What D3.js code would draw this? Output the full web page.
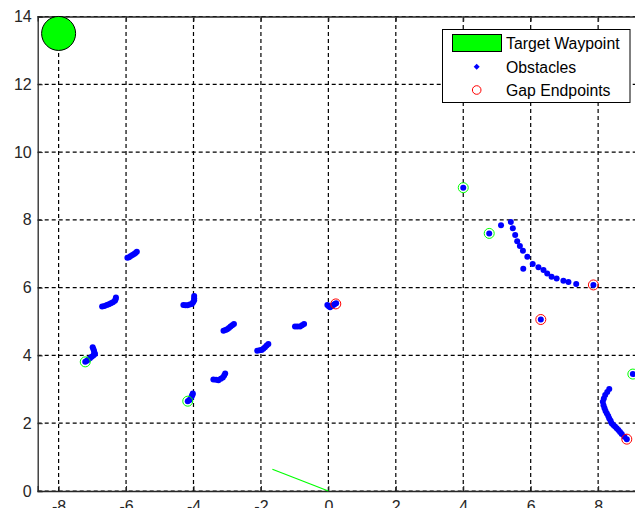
<!DOCTYPE html>
<html><head><meta charset="utf-8">
<script src="https://cdn.jsdelivr.net/npm/d3@7"></script>
<style>html,body{margin:0;padding:0;background:#fff;overflow:hidden}</style>
</head><body>
<svg id="c" width="635" height="508"></svg>
<script>
const xTicks = [-8,-6,-4,-2,0,2,4,6,8];
const yTicks = [0,2,4,6,8,10,12,14];
const obstacleX = [-7.21,-7.16,-7.12,-7.07,-7.02,-6.97,-6.92,-6.94,-6.95,-6.97,-6.99,
 -6.71,-6.64,-6.57,-6.51,-6.45,-6.39,-6.33,-6.31,-6.30,
 -5.96,-5.91,-5.86,-5.81,-5.76,-5.72,-5.68,
 -4.30,-4.24,-4.18,-4.11,-4.05,-4.01,-3.98,-3.98,-3.98,
 -3.11,-3.05,-3.00,-2.95,-2.90,-2.85,-2.80,
 -3.41,-3.33,-3.26,-3.19,-3.13,-3.09,-3.06,
 -4.17,-4.13,-4.10,-4.07,-4.05,-4.03,-4.02,
 -2.11,-2.04,-1.98,-1.93,-1.88,-1.83,-1.78,
 -0.99,-0.92,-0.84,-0.78,-0.72,
 -0.03,0.01,0.05,0.10,0.15,0.19,0.23,
 4.00,4.77,5.12,5.41,5.47,5.54,5.60,5.68,5.77,5.90,5.78,6.06,6.23,6.38,6.49,6.62,6.77,6.97,7.12,7.35,7.86,6.30,
 9.03,8.33,8.27,8.21,8.17,8.14,8.16,8.19,8.22,8.26,8.30,8.33,8.37,8.40,8.45,8.50,8.55,8.60,8.65,8.70,8.78,8.85];
const obstacleY = [3.81,3.84,3.88,3.92,3.96,4.00,4.04,4.09,4.14,4.19,4.24,
 5.44,5.46,5.49,5.51,5.54,5.57,5.61,5.66,5.71,
 6.88,6.90,6.93,6.96,6.99,7.02,7.06,
 5.49,5.48,5.48,5.50,5.52,5.57,5.63,5.69,5.75,
 4.73,4.75,4.77,4.81,4.85,4.89,4.93,
 3.29,3.28,3.27,3.31,3.35,3.41,3.47,
 2.65,2.68,2.70,2.75,2.80,2.84,2.88,
 4.14,4.15,4.16,4.20,4.24,4.29,4.34,
 4.85,4.85,4.85,4.89,4.93,
 5.49,5.45,5.42,5.46,5.49,5.52,5.54,
 8.95,7.60,7.84,7.94,7.75,7.55,7.37,7.23,7.09,6.91,6.56,6.70,6.60,6.52,6.42,6.32,6.27,6.20,6.17,6.11,6.08,5.06,
 3.45,3.01,2.92,2.83,2.73,2.63,2.53,2.44,2.36,2.29,2.21,2.14,2.07,2.00,1.95,1.90,1.85,1.80,1.74,1.68,1.60,1.53];
const greenEndX = [-7.21,-4.17,4.00,4.77,9.03];
const greenEndY = [3.81,2.65,8.95,7.60,3.45];
const gapEndX = [0.22,7.86,6.30,8.85];
const gapEndY = [5.52,6.08,5.06,1.53];
const waypointX = [-8], waypointY = [13.5];
const headingX = [0,-1.66], headingY = [0,0.64];
const legendLabels = ["Target Waypoint","Obstacles","Gap Endpoints"];

const svg = d3.select("#c");
const x = d3.scaleLinear().domain([-8.62, 9.6]).range([37.7, 37.7 + 18.22*33.72]);
const y = d3.scaleLinear().domain([0, 14]).range([491, 16.5]);
const X0 = x.range()[0], X1 = x.range()[1], Y0 = y.range()[0], Y1 = y.range()[1];

// grid
const g = svg.append("g");
g.selectAll(".gx").data(xTicks).join("line")
 .attr("x1", d=>x(d)).attr("x2", d=>x(d)).attr("y1", Y0).attr("y2", Y1)
 .attr("stroke","#000").attr("stroke-width",1.2).attr("stroke-dasharray","4,3");
g.selectAll(".gy").data(yTicks).join("line")
 .attr("y1", d=>y(d)).attr("y2", d=>y(d)).attr("x1", X0).attr("x2", X1)
 .attr("stroke","#000").attr("stroke-width",1.2).attr("stroke-dasharray","4,3");

// axes
const ax = svg.append("g").attr("transform",`translate(0,${Y0})`)
 .call(d3.axisBottom(x).tickValues(xTicks).tickSize(-5).tickPadding(10).tickFormat(d3.format("d")));
const ay = svg.append("g").attr("transform",`translate(${X0},0)`)
 .call(d3.axisLeft(y).tickValues(yTicks).tickSize(-5).tickPadding(6).tickFormat(d3.format("d")));
const at = svg.append("g").attr("transform",`translate(0,${Y1})`)
 .call(d3.axisTop(x).tickValues(xTicks).tickSize(-5).tickFormat(""));
[ax,ay,at].forEach(a=>{
  a.select(".domain").attr("stroke","#262626").attr("stroke-width",1.3);
  a.selectAll(".tick line").attr("stroke","#262626");
  a.selectAll("text").attr("fill","#262626").style("font-family","'Liberation Sans',Arial,sans-serif").style("font-size","16px");
});
ax.selectAll("text").text(d=>String(d).replace("−","-"));

// heading line
svg.append("path").datum(headingX.map((d,i)=>[d,headingY[i]]))
 .attr("d", d3.line().x(d=>x(d[0])).y(d=>y(d[1])))
 .attr("stroke","#00ff00").attr("stroke-width",1.2).attr("fill","none");

// obstacles
svg.append("g").selectAll("circle").data(obstacleX.map((d,i)=>[d,obstacleY[i]])).join("circle")
 .attr("cx",d=>x(d[0])).attr("cy",d=>y(d[1])).attr("r",3).attr("fill","#0000ff");

// endpoint circles
svg.append("g").selectAll("circle").data(greenEndX.map((d,i)=>[d,greenEndY[i]])).join("circle")
 .attr("cx",d=>x(d[0])).attr("cy",d=>y(d[1])).attr("r",5).attr("fill","none").attr("stroke","#00ff00").attr("stroke-width",1);
svg.append("g").selectAll("circle").data(gapEndX.map((d,i)=>[d,gapEndY[i]])).join("circle")
 .attr("cx",d=>x(d[0])).attr("cy",d=>y(d[1])).attr("r",5).attr("fill","none").attr("stroke","#ff0000").attr("stroke-width",1);

// waypoint
svg.append("g").selectAll("circle").data(waypointX.map((d,i)=>[d,waypointY[i]])).join("circle")
 .attr("cx",d=>x(d[0])).attr("cy",d=>y(d[1])).attr("r",17).attr("fill","#00ff00").attr("stroke","#000").attr("stroke-width",1);

// legend
const lg = svg.append("g");
lg.append("rect").attr("x",442.5).attr("y",29.5).attr("width",187.5).attr("height",73)
 .attr("fill","#fff").attr("stroke","#000").attr("stroke-width",1);
lg.append("rect").attr("x",452.5).attr("y",34.5).attr("width",49).attr("height",17)
 .attr("fill","#00ff00").attr("stroke","#000").attr("stroke-width",1);
lg.append("path").attr("d","M476.7,63.7 L479.7,66.7 L476.7,69.7 L473.7,66.7 Z").attr("fill","#0000ff");
lg.append("circle").attr("cx",476.7).attr("cy",90).attr("r",4.3).attr("fill","none").attr("stroke","#ff0000").attr("stroke-width",1);
lg.selectAll("text").data(legendLabels).join("text")
 .attr("x",506).attr("y",(d,i)=>[49,72.5,95.5][i])
 .style("font-family","'Liberation Sans',Arial,sans-serif").style("font-size","15.8px").attr("fill","#000")
 .text(d=>d);
</script>
</body></html>
